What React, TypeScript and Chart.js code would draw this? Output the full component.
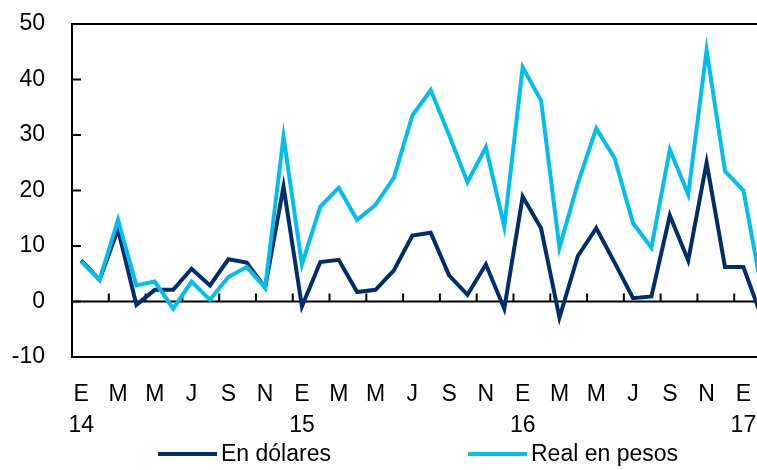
import React, { useEffect, useRef } from 'react';
import { Chart, registerables } from 'chart.js';

Chart.register(...registerables);

// Monthly categories, January 2014 to February 2017
const categories: string[] = [
  '2014-01', '2014-02', '2014-03', '2014-04', '2014-05', '2014-06', '2014-07', '2014-08', '2014-09', '2014-10', '2014-11', '2014-12',
  '2015-01', '2015-02', '2015-03', '2015-04', '2015-05', '2015-06', '2015-07', '2015-08', '2015-09', '2015-10', '2015-11', '2015-12',
  '2016-01', '2016-02', '2016-03', '2016-04', '2016-05', '2016-06', '2016-07', '2016-08', '2016-09', '2016-10', '2016-11', '2016-12',
  '2017-01', '2017-02',
];

const xTickLabels: (string | string[])[] = [
  ['E', '14'], '', 'M', '', 'M', '', 'J', '', 'S', '', 'N', '',
  ['E', '15'], '', 'M', '', 'M', '', 'J', '', 'S', '', 'N', '',
  ['E', '16'], '', 'M', '', 'M', '', 'J', '', 'S', '', 'N', '',
  ['E', '17'], '',
];

const enDolares: number[] = [
  7.4, 3.9, 13.0, -0.6, 2.1, 2.1, 5.9, 2.9, 7.6, 7.0, 2.5, 20.7,
  -0.9, 7.1, 7.5, 1.7, 2.1, 5.6, 11.9, 12.4, 4.7, 1.2, 6.7, -1.3,
  18.9, 13.2, -2.9, 8.2, 13.2, 7.0, 0.6, 0.9, 15.5, 7.4, 25.0, 6.2,
  6.2, -2.9,
];

const realEnPesos: number[] = [
  7.2, 3.9, 14.7, 2.9, 3.6, -1.3, 3.6, 0.3, 4.4, 6.2, 2.5, 29.7,
  6.7, 17.1, 20.5, 14.7, 17.4, 22.3, 33.5, 38.1, 30.0, 21.5, 27.8, 13.5,
  42.2, 36.2, 9.7, 21.3, 31.2, 25.8, 14.1, 9.7, 27.4, 19.3, 45.3, 23.5,
  20.0, 2.0,
];

const seriesNames: string[] = ['En dólares', 'Real en pesos'];
const seriesColors: string[] = ['#002E6D', '#00BFF0'];
const yTicks: number[] = [-10, 0, 10, 20, 30, 40, 50];

const FONT = "'Liberation Sans', Arial, sans-serif";
const FSIZE = 23;

const framePlugin = {
  id: 'frame',
  beforeDatasetsDraw(chart: any) {
    const { ctx, chartArea, scales } = chart;
    const x = scales.x;
    const y = scales.y;
    ctx.save();
    ctx.strokeStyle = '#000';
    ctx.lineWidth = 2;
    // top frame line
    ctx.beginPath();
    ctx.moveTo(chartArea.left, chartArea.top);
    ctx.lineTo(chartArea.right, chartArea.top);
    ctx.stroke();
    // zero line
    const y0 = y.getPixelForValue(0);
    ctx.beginPath();
    ctx.moveTo(chartArea.left, y0);
    ctx.lineTo(chartArea.right, y0);
    ctx.stroke();
    // x tick marks on zero line at every two-month boundary
    const half = (x.getPixelForValue(1) - x.getPixelForValue(0)) / 2;
    for (let i = 2; i < categories.length; i += 2) {
      const px = x.getPixelForValue(i) - half;
      ctx.beginPath();
      ctx.moveTo(px, y0);
      ctx.lineTo(px, y0 - 8);
      ctx.stroke();
    }
    // inward y ticks
    yTicks.forEach((v) => {
      const py = y.getPixelForValue(v);
      ctx.beginPath();
      ctx.moveTo(chartArea.left, py);
      ctx.lineTo(chartArea.left + 9, py);
      ctx.stroke();
    });
    ctx.restore();
  },
  afterDraw(chart: any) {
    const { ctx } = chart;
    ctx.save();
    ctx.font = `${FSIZE}px ${FONT}`;
    ctx.textBaseline = 'middle';
    ctx.fillStyle = '#000';
    const starts = [158, 468];
    const yMid = 454;
    chart.data.datasets.forEach((ds: any, i: number) => {
      const sx = starts[i];
      ctx.strokeStyle = ds.borderColor;
      ctx.lineWidth = 4;
      ctx.beginPath();
      ctx.moveTo(sx, yMid);
      ctx.lineTo(sx + 59, yMid);
      ctx.stroke();
      ctx.textAlign = 'left';
      ctx.fillText(ds.label, sx + 63, yMid + 1);
    });
    ctx.restore();
  },
};

export default function App() {
  const ref = useRef<HTMLCanvasElement>(null);
  useEffect(() => {
    if (!ref.current) return;
    const chart = new Chart(ref.current, {
      type: 'line',
      data: {
        labels: categories,
        datasets: [
          {
            label: seriesNames[0],
            data: enDolares,
            borderColor: seriesColors[0],
            backgroundColor: seriesColors[0],
            borderWidth: 4,
            pointRadius: 0,
            tension: 0,
            order: 2,
          },
          {
            label: seriesNames[1],
            data: realEnPesos,
            borderColor: seriesColors[1],
            backgroundColor: seriesColors[1],
            borderWidth: 4,
            pointRadius: 0,
            tension: 0,
            order: 1,
          },
        ],
      },
      options: {
        responsive: false,
        animation: false,
        devicePixelRatio: 1,
        layout: { padding: { top: 24, right: 19, bottom: 33, left: 0 } },
        plugins: {
          legend: { display: false },
          tooltip: { enabled: false },
        },
        scales: {
          x: {
            type: 'category',
            offset: true,
            grid: { display: false, drawTicks: false },
            border: { display: true, color: '#000', width: 2 },
            ticks: {
              autoSkip: false,
              maxRotation: 0,
              minRotation: 0,
              padding: 22,
              color: '#000',
              font: { family: FONT, size: FSIZE, lineHeight: 1.35 },
              callback: (_v: any, i: number) => xTickLabels[i],
            },
            afterFit: (s: any) => {
              s.height = 80;
              s.paddingLeft = 0;
              s.paddingRight = 0;
            },
          },
          y: {
            min: -10,
            max: 50,
            grid: { display: false, drawTicks: false },
            border: { display: true, color: '#000', width: 2 },
            ticks: {
              stepSize: 10,
              padding: 27,
              color: '#000',
              font: { family: FONT, size: FSIZE },
            },
            afterFit: (s: any) => {
              s.width = 72;
              s.paddingTop = 0;
              s.paddingBottom = 0;
            },
          },
        },
      },
      plugins: [framePlugin],
    });
    return () => chart.destroy();
  }, []);
  return (
    <div style={{ position: 'fixed', left: 0, top: 0, width: 757, height: 470, overflow: 'hidden', background: '#fff' }}>
      <canvas ref={ref} width={790} height={470} style={{ display: 'block' }} />
    </div>
  );
}
